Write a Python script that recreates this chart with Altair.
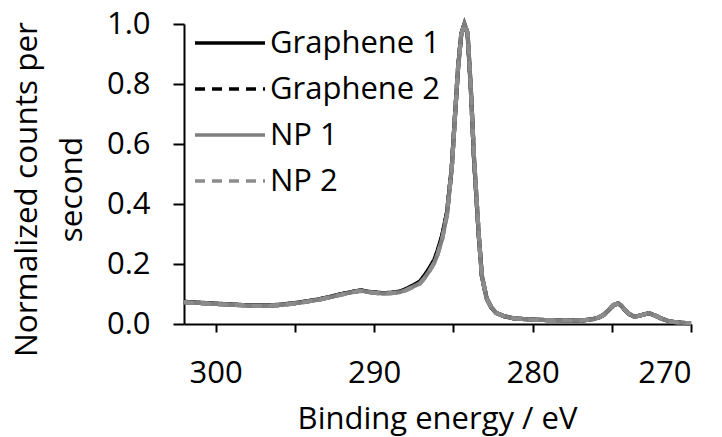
import altair as alt
import pandas as pd

# C 1s spectra, binding energy in eV (x axis runs high -> low)
energy = [
    302.0, 301.0, 300.0, 298.9, 297.9, 296.9, 296.0, 295.0, 294.2, 293.4,
    292.8, 292.2, 291.6, 291.2, 290.8, 290.3, 289.8, 289.4, 288.9, 288.4,
    288.0, 287.6, 287.1, 286.8, 286.5, 286.2, 286.0, 285.7, 285.4, 285.1,
    284.9, 284.7, 284.5, 284.3, 284.1, 283.9, 283.7, 283.4, 283.2, 282.9,
    282.6, 282.3, 281.8, 281.2, 280.2, 279.1, 278.0, 277.0, 276.2, 275.8,
    275.5, 275.2, 274.9, 274.6, 274.4, 274.2, 273.9, 273.6, 273.4, 273.1,
    272.8, 272.6, 272.3, 271.9, 271.6, 271.3, 270.8, 270.0,
]

graphene_1 = [
    0.074, 0.071, 0.068, 0.065, 0.062, 0.062, 0.064, 0.070, 0.076, 0.083,
    0.090, 0.098, 0.105, 0.109, 0.112, 0.107, 0.104, 0.103, 0.104, 0.108,
    0.116, 0.127, 0.142, 0.163, 0.187, 0.214, 0.243, 0.296, 0.372, 0.522,
    0.692, 0.856, 0.966, 1.000, 0.968, 0.786, 0.556, 0.298, 0.160, 0.086,
    0.055, 0.037, 0.026, 0.019, 0.015, 0.013, 0.012, 0.011, 0.016, 0.022,
    0.031, 0.046, 0.062, 0.068, 0.061, 0.048, 0.033, 0.025, 0.026, 0.030,
    0.034, 0.035, 0.029, 0.019, 0.013, 0.008, 0.005, 0.002,
]

graphene_2 = [
    0.073, 0.070, 0.067, 0.064, 0.062, 0.061, 0.063, 0.069, 0.076, 0.083,
    0.090, 0.098, 0.104, 0.109, 0.111, 0.107, 0.104, 0.102, 0.104, 0.107,
    0.115, 0.126, 0.140, 0.161, 0.185, 0.212, 0.240, 0.293, 0.370, 0.521,
    0.691, 0.857, 0.967, 1.000, 0.969, 0.788, 0.558, 0.299, 0.159, 0.085,
    0.055, 0.037, 0.026, 0.019, 0.015, 0.013, 0.012, 0.011, 0.016, 0.022,
    0.031, 0.047, 0.063, 0.069, 0.062, 0.049, 0.033, 0.025, 0.026, 0.030,
    0.034, 0.035, 0.029, 0.019, 0.013, 0.008, 0.005, 0.002,
]

np_1 = [
    0.073, 0.070, 0.067, 0.064, 0.061, 0.061, 0.063, 0.069, 0.075, 0.082,
    0.089, 0.097, 0.104, 0.108, 0.111, 0.106, 0.103, 0.102, 0.103, 0.106,
    0.113, 0.123, 0.136, 0.155, 0.178, 0.205, 0.232, 0.285, 0.365, 0.520,
    0.690, 0.855, 0.965, 1.000, 0.970, 0.790, 0.560, 0.300, 0.160, 0.085,
    0.055, 0.037, 0.026, 0.019, 0.015, 0.013, 0.012, 0.011, 0.016, 0.022,
    0.031, 0.047, 0.063, 0.069, 0.062, 0.049, 0.033, 0.025, 0.026, 0.030,
    0.034, 0.035, 0.029, 0.019, 0.013, 0.008, 0.005, 0.002,
]

np_2 = [
    0.072, 0.070, 0.066, 0.064, 0.061, 0.060, 0.063, 0.068, 0.075, 0.082,
    0.089, 0.096, 0.103, 0.108, 0.110, 0.106, 0.103, 0.101, 0.103, 0.106,
    0.112, 0.122, 0.135, 0.154, 0.177, 0.204, 0.231, 0.284, 0.364, 0.519,
    0.689, 0.854, 0.964, 1.000, 0.971, 0.792, 0.562, 0.301, 0.161, 0.086,
    0.055, 0.037, 0.026, 0.019, 0.015, 0.013, 0.012, 0.011, 0.016, 0.022,
    0.031, 0.047, 0.063, 0.069, 0.062, 0.049, 0.033, 0.025, 0.026, 0.030,
    0.034, 0.035, 0.029, 0.019, 0.013, 0.008, 0.005, 0.002,
]

series_names = ["Graphene 1", "Graphene 2", "NP 1", "NP 2"]
series_colors = ["#000000", "#000000", "#7f7f7f", "#8c8c8c"]
series_dashes = [[1, 0], [10, 7], [1, 0], [10, 7]]

FONT = "Open Sans"

rows = []
for name, vals in zip(series_names, [graphene_1, graphene_2, np_1, np_2]):
    for e, v in zip(energy, vals):
        rows.append({"energy": e, "counts": v, "series": name})
df = pd.DataFrame(rows)

x_ticks = [300, 295, 290, 285, 280, 275, 270]
y_ticks = [0.0, 0.2, 0.4, 0.6, 0.8, 1.0]

lines = alt.Chart(df).mark_line(strokeWidth=4.2).encode(
    x=alt.X(
        "energy:Q",
        scale=alt.Scale(domain=[270, 302], reverse=True, nice=False, zero=False),
        axis=alt.Axis(
            values=x_ticks,
            labelExpr="datum.value % 10 == 0 ? datum.label : ''",
            title="Binding energy / eV",
            grid=False,
            tickSize=8,
            tickWidth=2,
            tickColor="black",
            domainColor="black",
            domainWidth=2,
            labelFont=FONT,
            labelFontSize=31,
            labelColor="black",
            labelBaseline="alphabetic",
            labelPadding=50,
            titleFont=FONT,
            titleFontSize=31,
            titleFontWeight="normal",
            titleColor="black",
            titleBaseline="alphabetic",
            titleX=253,
            titleY=104,
        ),
    ),
    y=alt.Y(
        "counts:Q",
        scale=alt.Scale(domain=[0, 1], nice=False),
        axis=alt.Axis(
            values=y_ticks,
            format=".1f",
            title=["Normalized counts per", "second"],
            grid=False,
            tickSize=11,
            tickWidth=2,
            tickColor="black",
            domainColor="black",
            domainWidth=2,
            labelFont=FONT,
            labelFontSize=31,
            labelColor="black",
            labelPadding=23,
            titleFont=FONT,
            titleFontSize=31.5,
            titleFontWeight="normal",
            titleColor="black",
            titleAngle=-90,
            titleAlign="center",
            titleBaseline="alphabetic",
            titleLineHeight=45,
            titleX=-148,
            titleY=165,
        ),
    ),
    color=alt.Color(
        "series:N",
        scale=alt.Scale(domain=series_names, range=series_colors),
        legend=None,
    ),
    strokeDash=alt.StrokeDash(
        "series:N",
        scale=alt.Scale(domain=series_names, range=series_dashes),
        legend=None,
    ),
)

# Legend drawn inside the plot area, top left
legend_layers = []
row_y0 = 19
row_step = 46
for i, (name, col, dash) in enumerate(zip(series_names, series_colors, series_dashes)):
    yy = row_y0 + i * row_step
    legend_layers.append(
        alt.Chart(pd.DataFrame({"series": [name]}))
        .mark_rule(color=col, strokeWidth=3.5, strokeDash=dash)
        .encode(x=alt.value(11), x2=alt.value(81), y=alt.value(yy))
    )
    legend_layers.append(
        alt.Chart(pd.DataFrame({"series": [name]}))
        .mark_text(align="left", baseline="middle", font=FONT, fontSize=31, color="black", dy=1)
        .encode(x=alt.value(86), y=alt.value(yy), text="series:N")
    )

chart = (
    alt.layer(lines, *legend_layers)
    .properties(
        width=507,
        height=300,
        autosize=alt.AutoSizeParams(type="none"),
        padding={"left": 184, "right": 31, "top": 24, "bottom": 113},
        background="white",
    )
    .configure_view(stroke=None)
)

chart.save("out.html", embed_options={"renderer": "svg", "actions": False})
